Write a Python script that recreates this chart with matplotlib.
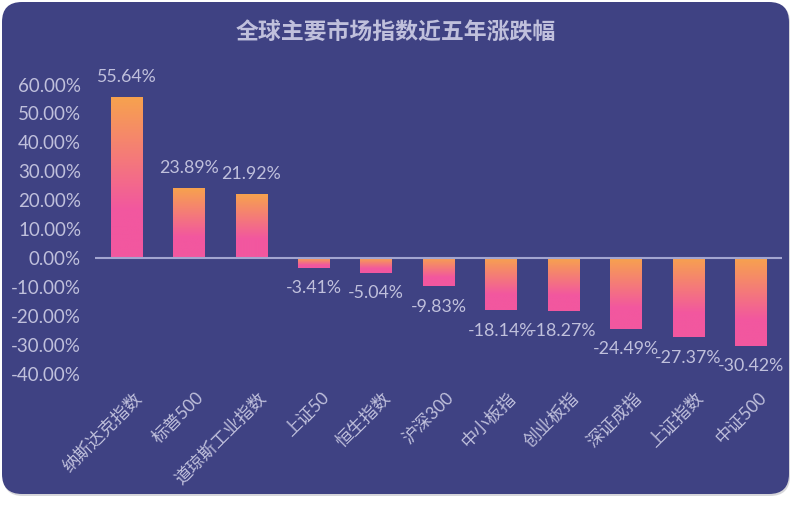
import numpy as np
import matplotlib.pyplot as plt
from matplotlib.patches import FancyBboxPatch
from matplotlib.colors import LinearSegmentedColormap

plt.rcParams['font.family'] = ['Lato', 'Noto Sans CJK SC', 'DejaVu Sans']
plt.rcParams['axes.unicode_minus'] = False

title = '全球主要市场指数近五年涨跌幅'
categories = ['纳斯达克指数', '标普500', '道琼斯工业指数', '上证50', '恒生指数', '沪深300',
              '中小板指', '创业板指', '深证成指', '上证指数', '中证500']
changes = [55.64, 23.89, 21.92, -3.41, -5.04, -9.83, -18.14, -18.27, -24.49, -27.37, -30.42]
yticks = [-40, -30, -20, -10, 0, 10, 20, 30, 40, 50, 60]

card_color = '#3f4283'
text_color = '#c0c0dc'
grad = LinearSegmentedColormap.from_list('bar', [(0, '#f2579f'), (0.3, '#f2579f'), (1, '#f7a24e')])

fig = plt.figure(figsize=(7.93, 5.11), dpi=100)
fig.patch.set_facecolor('white')

# card background in pixel coords
bg = fig.add_axes([0, 0, 1, 1])
bg.set_xlim(0, 793)
bg.set_ylim(511, 0)
bg.axis('off')
bg.add_patch(FancyBboxPatch((3, 3), 787, 493, boxstyle='round,pad=0,rounding_size=20',
                            fc='#d6d6da', ec='none'))
bg.add_patch(FancyBboxPatch((2, 2), 787, 492, boxstyle='round,pad=0,rounding_size=20',
                            fc=card_color, ec='none'))

ax = fig.add_axes([0.1198, 0.2462, 0.8663, 0.5996])
ax.set_facecolor('none')
for s in ax.spines.values():
    s.set_visible(False)

width = 0.5
g = np.linspace(0, 1, 256).reshape(-1, 1)
for i, v in enumerate(changes):
    lo, hi = min(0, v), max(0, v)
    ax.imshow(g, cmap=grad, extent=[i - width / 2, i + width / 2, lo, hi],
              origin='lower', aspect='auto', zorder=2)
    if v >= 0:
        ax.annotate(f'{v:.2f}%', xy=(i, v), xytext=(0, 9), textcoords='offset points',
                    ha='center', va='bottom', color=text_color, fontsize=12.8)
    else:
        ax.annotate(f'{v:.2f}%', xy=(i, v), xytext=(0, -9), textcoords='offset points',
                    ha='center', va='top', color=text_color, fontsize=12.8)
    ax.annotate(categories[i], xy=(i, 0), xycoords=('data', 'axes fraction'),
                xytext=(5, -3), textcoords='offset points', rotation=45,
                rotation_mode='anchor', ha='right', va='top', color=text_color,
                fontsize=12.5)

ax.axhline(0, color='#a3a5d0', lw=1.5, zorder=3)
ax.set_xlim(-0.5, 10.5)
ax.set_ylim(-44, 62)
ax.set_xticks([])
ax.set_yticks(yticks)
ax.set_yticklabels([f'{t:.2f}%' for t in yticks])
ax.tick_params(axis='y', length=0, pad=10, labelsize=13.5, labelcolor=text_color)

fig.text(396 / 793, 1 - 31 / 511, title, ha='center', va='center', fontsize=16.5,
         weight='bold', color=text_color)

fig.savefig('out.png', dpi=100)
